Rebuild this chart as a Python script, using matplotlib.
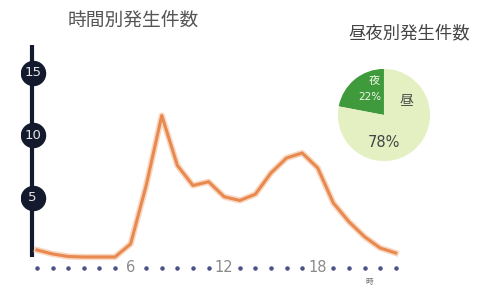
import numpy as np
import matplotlib.pyplot as plt

plt.rcParams['font.family'] = ['Noto Sans CJK JP', 'DejaVu Sans']

# hourly counts
hours = list(range(24))
counts = [0.84, 0.52, 0.32, 0.28, 0.28, 0.28, 1.32, 6.0, 11.6, 7.6, 6.0, 6.3,
          5.1, 4.8, 5.3, 7.0, 8.2, 8.6, 7.4, 4.6, 3.1, 1.9, 1.0, 0.6]
y_ticks = [5, 10, 15]
x_labels = {6: '6', 12: '12', 18: '18'}

# day / night share
pie_labels = ['夜', '昼']
pie_values = [22, 78]

navy = '#141a2e'
orange = '#e8894f'

fig = plt.figure(figsize=(4.79, 2.88), dpi=100)
ax = fig.add_axes([0.0447, 0.0087, 0.814, 0.8464])
ax.set_xlim(-1, 24)
ax.set_ylim(-2, 17.5)
ax.axis('off')

# vertical axis bar with round badges
ax.plot([-0.32, -0.32], [0.3, 17.2], color=navy, lw=3, solid_capstyle='butt', zorder=2)
ax.scatter([-0.28] * len(y_ticks), y_ticks, s=300, color=navy, zorder=3)
for t in y_ticks:
    ax.text(-0.28, t, str(t), ha='center', va='center', fontsize=9.5,
            color='#e6e6e6', zorder=4, family='DejaVu Sans')

# dotted hour axis
dot_x = [h for h in hours if h not in x_labels]
ax.scatter(dot_x, [-0.6] * len(dot_x), s=5, color='#4d5287', zorder=2)
for h, lab in x_labels.items():
    ax.text(h, -0.6, lab, ha='center', va='center', fontsize=10.5,
            color='#8a8a8a', family='DejaVu Sans')
ax.text(21.3, -1.75, '時', ha='center', va='center', fontsize=5.5, color='#666')

# line with soft halo
ax.plot(hours, counts, color='#f6c8a8', lw=4.5, alpha=0.7, zorder=4,
        solid_joinstyle='round')
ax.plot(hours, counts, color=orange, lw=2.2, zorder=5, solid_joinstyle='round')

fig.text(133 / 479, 1 - 20 / 288, '時間別発生件数', ha='center', va='center',
         fontsize=13.5, color='#555555')
fig.text(409 / 479, 1 - 33 / 288, '昼夜別発生件数', ha='center', va='center',
         fontsize=12.5, color='#444444')

# pie
pax = fig.add_axes([0.7035, 0.4375, 0.1962, 0.3264])
pax.pie(pie_values, colors=['#3e9a3a', '#e4f0c2'], startangle=90,
        counterclock=True, radius=1.0, wedgeprops=dict(linewidth=0))
pax.set_xlim(-1.02, 1.02)
pax.set_ylim(-1.02, 1.02)
pax.set_aspect('equal')
pax.axis('off')
pax.text(-0.2, 0.74, pie_labels[0], ha='center', va='center', fontsize=8,
         color='#f2f7ea')
pax.text(-0.3, 0.38, '%d%%' % pie_values[0], ha='center', va='center', fontsize=7.5,
         color='#f2f7ea', family='DejaVu Sans')
pax.text(0.49, 0.32, pie_labels[1], ha='center', va='center', fontsize=10,
         color='#4a4a4a')
pax.text(0.0, -0.59, '%d%%' % pie_values[1], ha='center', va='center', fontsize=10.5,
         color='#444444', family='DejaVu Sans')

fig.savefig('out.png', dpi=100)
